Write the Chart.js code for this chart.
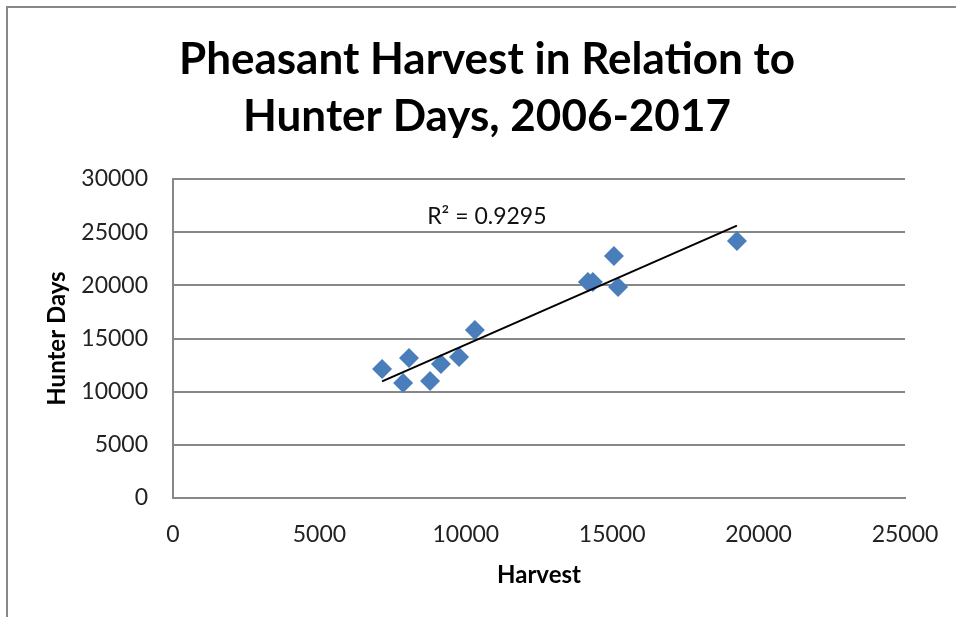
<!DOCTYPE html>
<html><head><meta charset="utf-8">
<script src="https://cdn.jsdelivr.net/npm/chart.js@4"></script>
<style>
html,body{margin:0;padding:0;background:#fff;}
#wrap{position:relative;width:956px;height:617px;overflow:hidden;background:#fff}
#frame{position:absolute;left:6px;top:6px;width:960px;height:620px;border-left:2px solid #888;border-top:2px solid #888;}
canvas{position:absolute;left:0;top:0}
</style></head><body>
<div id="wrap"><div id="frame"></div><canvas id="c" width="956" height="617"></canvas></div>
<script>
const titleLines = ['Pheasant Harvest in Relation to', 'Hunter Days, 2006-2017'];
const xAxisTitle = 'Harvest';
const yAxisTitle = 'Hunter Days';
const harvest    = [7140, 7860, 8060, 8780, 9150, 9770, 10310, 14170, 14340, 15060, 15200, 19260];
const hunterDays = [12130, 10820, 13170, 11000, 12600, 13260, 15800, 20310, 20310, 22760, 19840, 24170];
const xTicks = [0, 5000, 10000, 15000, 20000, 25000];
const yTicks = [0, 5000, 10000, 15000, 20000, 25000, 30000];
const r2Label = 'R\u00B2 = 0.9295';

const points = harvest.map((x, i) => ({x: x, y: hunterDays[i]}));

// least-squares linear trendline from the data
const n = harvest.length;
let sx = 0, sy = 0, sxx = 0, sxy = 0;
for (let i = 0; i < n; i++) { sx += harvest[i]; sy += hunterDays[i]; sxx += harvest[i]*harvest[i]; sxy += harvest[i]*hunterDays[i]; }
const slope = (n*sxy - sx*sy) / (n*sxx - sx*sx);
const intercept = (sy - slope*sx) / n;
const xMin = Math.min(...harvest), xMax = Math.max(...harvest);
const trend = [{x: xMin, y: intercept + slope*xMin}, {x: xMax, y: intercept + slope*xMax}];

const FONT = 'Lato';
const GRID = '#878787';

const r2Plugin = {
  id: 'r2',
  afterDatasetsDraw(chart) {
    const {ctx, scales} = chart;
    const px = scales.x.getPixelForValue(10720);
    const py = scales.y.getPixelForValue(26500);
    ctx.save();
    ctx.font = '23px ' + FONT;
    ctx.fillStyle = '#111';
    ctx.textAlign = 'center';
    ctx.textBaseline = 'middle';
    ctx.fillText(r2Label, px, py);
    ctx.restore();
  }
};

new Chart(document.getElementById('c'), {
  type: 'scatter',
  data: {
    datasets: [
      {
        label: 'Hunter Days',
        data: points,
        pointStyle: 'rectRot',
        pointRadius: 10,
        pointHoverRadius: 10,
        backgroundColor: '#4A7EBB',
        borderColor: '#4A7EBB',
        borderWidth: 0,
        order: 2
      },
      {
        type: 'line',
        label: 'Linear trend',
        data: trend,
        borderColor: '#000',
        borderWidth: 2,
        pointRadius: 0,
        fill: false,
        order: 1
      }
    ]
  },
  options: {
    responsive: false,
    animation: false,
    devicePixelRatio: 1,
    layout: { padding: { left: 69, right: 51, top: 8, bottom: 0 } },
    plugins: {
      legend: { display: false },
      tooltip: { enabled: false },
      title: {
        display: true,
        text: titleLines,
        color: '#000',
        font: { family: FONT, size: 44, weight: 'bold', lineHeight: '57px' },
        padding: { top: 23.5, bottom: 33.5 }
      }
    },
    scales: {
      x: {
        type: 'linear',
        min: 0, max: 25000,
        afterBuildTicks: s => { s.ticks = xTicks.map(v => ({value: v})); },
        afterFit: s => { s.height = 119; s.paddingLeft = 0; s.paddingRight = 0; },
        grid: { display: false, drawTicks: false },
        border: { display: true, color: GRID, width: 2 },
        ticks: { color: '#222', font: { family: FONT, size: 23 }, padding: 23, maxRotation: 0, callback: v => String(v) },
        title: { display: true, text: xAxisTitle, color: '#000', font: { family: FONT, size: 24, weight: 'bold', lineHeight: 1.2 }, padding: { top: 0, bottom: 27.6 } }
      },
      y: {
        type: 'linear',
        min: 0, max: 30000,
        afterBuildTicks: s => { s.ticks = yTicks.map(v => ({value: v})); },
        afterFit: s => { s.width = 104; s.paddingTop = 0; s.paddingBottom = 0; },
        grid: { display: true, drawTicks: false, color: GRID, lineWidth: 2 },
        border: { display: true, color: GRID, width: 2 },
        ticks: { color: '#222', font: { family: FONT, size: 23 }, padding: 25, callback: v => String(v) },
        title: { display: true, text: yAxisTitle, color: '#000', font: { family: FONT, size: 24, weight: 'bold', lineHeight: 1.2 }, padding: { top: -26.4, bottom: 0 } }
      }
    }
  },
  plugins: [r2Plugin]
});
</script>
</body></html>
